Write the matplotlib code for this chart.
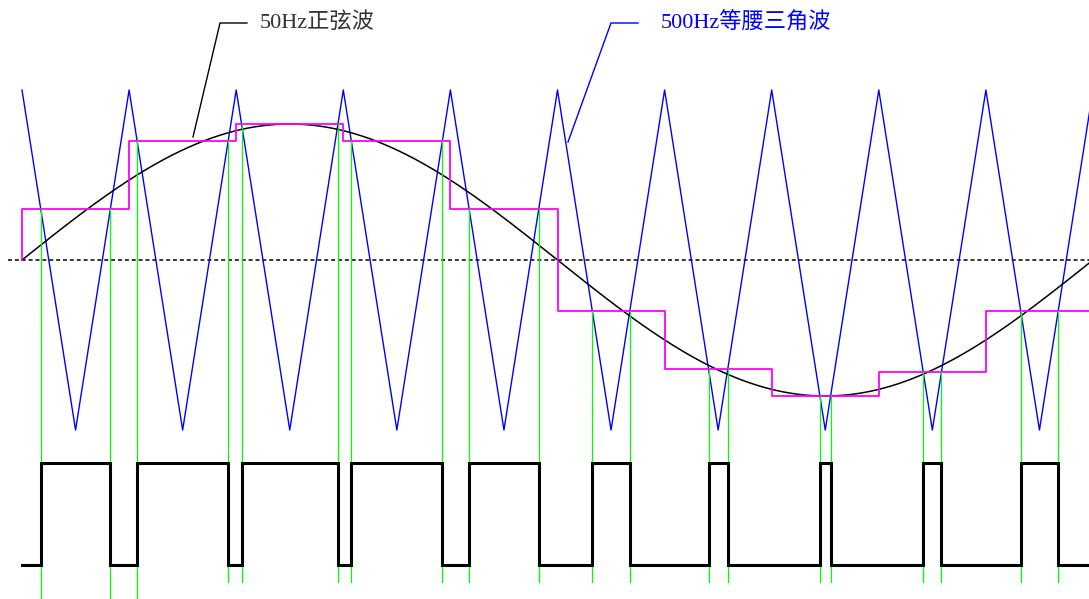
import numpy as np
import matplotlib
matplotlib.use("Agg")
import matplotlib.pyplot as plt

# ---- data (time in ms, amplitude relative to carrier peak) ----
carrier_freq_hz = 500
carrier_vertex_t = [0, 1, 2, 3, 4, 5, 6, 7, 8, 9, 10, 11, 12, 13, 14, 15, 16, 17, 18, 19, 20]
carrier_vertex_v = [1, -1, 1, -1, 1, -1, 1, -1, 1, -1, 1, -1, 1, -1, 1, -1, 1, -1, 1, -1, 1]
sine_freq_hz = 50
sine_amplitude = 0.80
step_start_t = [0, 2, 4, 6, 8, 10, 12, 14, 16, 18]
step_level = [0.30, 0.70, 0.80, 0.70, 0.30, -0.30, -0.64, -0.80, -0.66, -0.30]
pwm_high, pwm_low = -1.194, -1.794
label_sine = "50Hz正弦波"
label_tri = "500Hz等腰三角波"

# ---- figure ----
W, H = 1089, 599
fig = plt.figure(figsize=(W / 100, H / 100), dpi=100)
ax = fig.add_axes([0, 0, 1, 1])
PX_PER_MS = 53.55
PX_PER_UNIT = 170.0
X0, Y0 = 22, 260
ax.set_xlim(-X0 / PX_PER_MS, (W - X0) / PX_PER_MS)
ax.set_ylim(-(H - Y0) / PX_PER_UNIT, Y0 / PX_PER_UNIT)
ax.axis("off")

def px(x, y):
    return (x - X0) / PX_PER_MS, (Y0 - y) / PX_PER_UNIT

# zero reference line
xa, _ = px(8, 0)
xb, _ = px(W, 0)
ax.plot([xa, xb], [0, 0], color="black", lw=1.1, ls=(0, (2.6, 1.9)), zorder=1)

# triangle carrier
ax.plot(carrier_vertex_t, carrier_vertex_v, color="#0000FF", lw=1.0, zorder=2)

# sine modulating wave
t_end = 1000.0 / sine_freq_hz
t = np.linspace(0, t_end, 600)
ax.plot(t, sine_amplitude * np.sin(2 * np.pi * t / t_end), color="black", lw=1.1, zorder=3)

# staircase (sampled sine)
xr = (W - X0) / PX_PER_MS + 0.5
st_x = [0]
st_y = [0]
for i, (ts, lv) in enumerate(zip(step_start_t, step_level)):
    te = step_start_t[i + 1] if i + 1 < len(step_start_t) else xr
    st_x += [ts, te]
    st_y += [lv, lv]
ax.plot(st_x, st_y, color="#FF00FF", lw=1.3, zorder=4)

# intersections of staircase with carrier -> switching instants
half = 1000.0 / carrier_freq_hz / 2
edges = []
for ts, lv in zip(step_start_t, step_level):
    t_on = ts + (1 - lv) / 2 * half
    t_off = ts + 2 * half - (1 - lv) / 2 * half
    edges.append((t_on, lv))
    edges.append((t_off, lv))

for k, (te, lv) in enumerate(edges):
    bottom = px(0, 598)[1] if k < 3 else px(0, 582)[1]
    ax.plot([te, te], [lv, bottom], color="#00FF00", lw=0.9, zorder=5)

# PWM output
pw_x = [0]
pw_y = [pwm_low]
for k in range(0, len(edges), 2):
    a = edges[k][0]
    b = edges[k + 1][0]
    pw_x += [a, a, b, b]
    pw_y += [pwm_low, pwm_high, pwm_high, pwm_low]
pw_x.append(xr)
pw_y.append(pwm_low)
ax.plot(pw_x, pw_y, color="black", lw=2.2, zorder=6, solid_joinstyle="miter")

# annotations with leader lines
fam = ["Liberation Serif", "Noto Sans CJK SC"]
lx, ly = zip(*[px(193, 137), px(220, 23), px(247, 23)])
ax.plot(lx, ly, color="black", lw=1.0, zorder=7)
tx, ty = px(260, 23)
ax.text(tx, ty, label_sine, color="#333333", fontsize=16, family=fam, va="center", ha="left")

lx, ly = zip(*[px(568, 142), px(611, 23), px(638, 23)])
ax.plot(lx, ly, color="#0000FF", lw=1.0, zorder=7)
tx, ty = px(661, 23)
ax.text(tx, ty, label_tri, color="#0000FF", fontsize=16, family=fam, va="center", ha="left")

fig.savefig("out.png", dpi=100, facecolor="white")
